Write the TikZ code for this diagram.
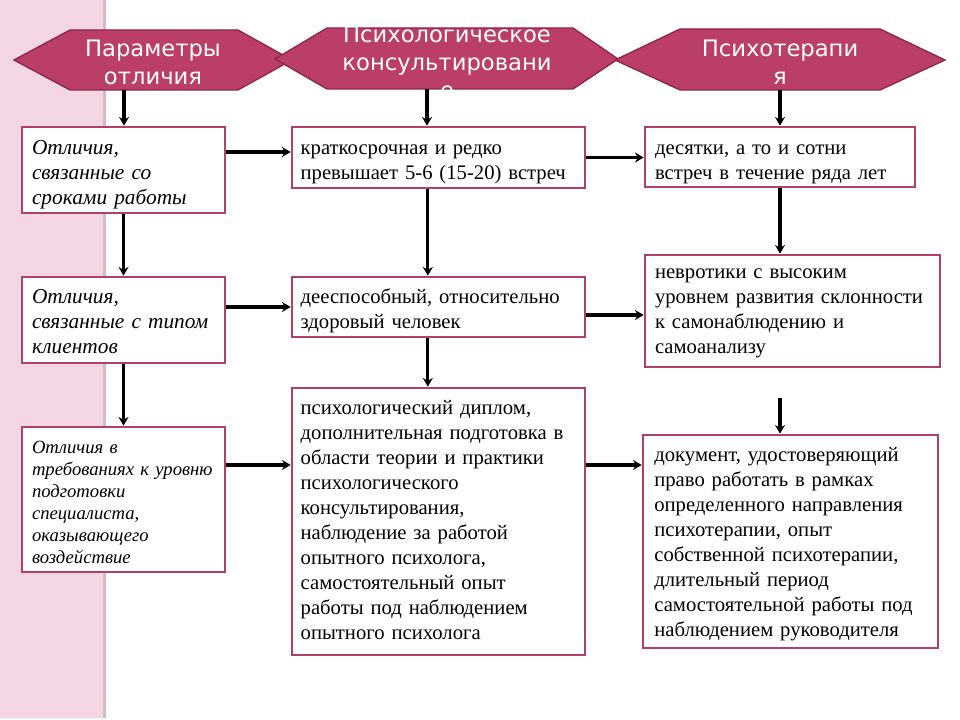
\documentclass[tikz,border=0pt]{standalone}
\usepackage{fontspec}
\setmainfont{Liberation Serif}
\newfontfamily\hdrfont{DejaVu Sans}
\usepackage{tikz}
\usetikzlibrary{positioning}
\usetikzlibrary{arrows.meta, patterns}
\definecolor{hdrfill}{RGB}{186,62,102}
\definecolor{hdrline}{RGB}{140,38,74}
\definecolor{boxline}{RGB}{176,64,104}
\definecolor{stripfill}{RGB}{244,216,230}
\definecolor{stripdots}{RGB}{234,198,216}
\definecolor{stripedge}{RGB}{214,186,200}
\tikzstyle{arrow} = [line width=2.4pt,-{Stealth[length=6.5pt,width=7.5pt]}]
\tikzstyle{header} = [fill=hdrfill, draw=hdrline, line width=1pt]
\tikzstyle{hdrtext} = [text=white, align=center, font=\hdrfont\fontsize{17}{21}\selectfont]
\tikzstyle{box} = [draw=boxline, line width=2pt, fill=white, align=left, inner ysep=0pt, inner xsep=7.5pt, font=\fontsize{15.5}{18.75}\selectfont]
\tikzstyle{leftbox} = [box, text width=137.25pt, font=\itshape\fontsize{16}{18.5}\selectfont]

\begin{document}
\begin{tikzpicture}[x=0.75pt,y=-0.75pt]
					\useasboundingbox (0,0) rectangle (960,720);

					% pink strip
					\fill[stripfill] (0,0) rectangle (103,718);
					\fill[pattern=crosshatch dots, pattern color=stripdots] (0,0) rectangle (103,718);
					\draw[stripedge, line width=2.5pt] (104.5,0) -- (104.5,718);

					% headers
					\draw[header] (14,60) -- (70,30) -- (238,30) -- (292,60) -- (238,90) -- (70,90) -- cycle;
					\draw[header] (275,59) -- (327,28) -- (573,28) -- (618,59) -- (573,89) -- (327,89) -- cycle;
					\draw[header] (615,60) -- (680,29) -- (880,29) -- (945,60) -- (880,90) -- (680,90) -- cycle;
					\node[hdrtext] (h1) at (153,62) {Параметры\\отличия};
					\node[hdrtext] (h2) at (447,62) {Психологическое\\консультировани\\е};
					\node[hdrtext] (h3) at (780,62) {Психотерапи\\я};
					\coordinate (h1b) at (124,90);
					\coordinate (h2b) at (427,89);
					\coordinate (h3b) at (780,90);

					% left column
					\node[leftbox, text height=21pt, text depth=43.5pt] (l1) at (123.5,170) {Отличия,\\связанные со\\сроками работы};
					\node[leftbox, text height=20pt, text depth=44.5pt] (l2) at (123.5,320) {Отличия,\\связанные с типом\\клиентов};
					\node[leftbox, text height=19.5pt, text depth=89.25pt, font=\itshape\fontsize{14}{16.5}\selectfont] (l3) at (123.5,499.5) {Отличия в\\требованиях к уровню\\подготовки\\специалиста,\\оказывающего\\воздействие};

					% middle column
					\node[box, inner xsep=6.5pt, text width=206.75pt, text height=21pt, text depth=24.75pt] (m1) at (438.5,157.5) {краткосрочная и редко\\превышает 5-6 (15-20) встреч};
					\node[box, inner xsep=6.5pt, text width=206.75pt, text height=20.25pt, text depth=24.75pt] (m2) at (438.5,307) {дееспособный, относительно\\здоровый человек};
					\node[box, inner xsep=6.5pt, text width=206.75pt, text height=20pt, text depth=180.25pt] (m3) at (438.5,521.5) {психологический диплом,\\дополнительная подготовка в\\области теории и практики\\психологического\\консультирования,\\наблюдение за работой\\опытного психолога,\\самостоятельный опыт\\работы под наблюдением\\опытного психолога};

					% right column
					\node[box, text width=187.5pt, text height=21pt, text depth=24pt] (r1) at (780,157) {десятки, а то и сотни\\встреч в течение ряда лет};
					\node[box, text width=206.25pt, text height=18pt, text depth=66pt] (r2) at (792.5,311) {невротики с высоким\\уровнем развития склонности\\к самонаблюдению и\\самоанализу};
					\node[box, inner xsep=8.5pt, text width=204.25pt, text height=19.5pt, text depth=140.25pt] (r3) at (790.5,541.5) {документ, удостоверяющий\\право работать в рамках\\определенного направления\\психотерапии, опыт\\собственной психотерапии,\\длительный период\\самостоятельной работы под\\наблюдением руководителя};
					\coordinate (gap) at (780,398);

					%arrows
					\draw[arrow] (h1b) -- (h1b |- l1.north);
					\draw[arrow] (h2b) -- (h2b |- m1.north);
					\draw[arrow] (h3b) -- (h3b |- r1.north);
					\draw[arrow] (l1.south) -- (l2.north);
					\draw[arrow] (l2.south) -- (l3.north);
					\draw[arrow] ([xshift=-8pt]m1.south) -- ([xshift=-8pt]m2.north);
					\draw[arrow] ([xshift=-8pt]m2.south) -- ([xshift=-8pt]m3.north);
					\draw[arrow] (r1.south) -- (r1.south |- r2.north);
					\draw[arrow] (gap) -- (gap |- r3.north);
					\draw[arrow] ([yshift=13.5pt]l1.east) -- ([yshift=13.5pt]l1.east -| m1.west);
					\draw[arrow] (m1.east) -- (m1.east -| r1.west);
					\draw[arrow] (l2.east |- m2.west) -- (m2.west);
					\draw[arrow] ([yshift=-6pt]m2.east) -- ([yshift=-6pt]m2.east -| r2.west);
					\draw[arrow] ([yshift=25.9pt]l3.east) -- ([yshift=25.9pt]l3.east -| m3.west);
					\draw[arrow] ([yshift=42.4pt]m3.east) -- ([yshift=42.4pt]m3.east -| r3.west);
\end{tikzpicture}
\end{document}
